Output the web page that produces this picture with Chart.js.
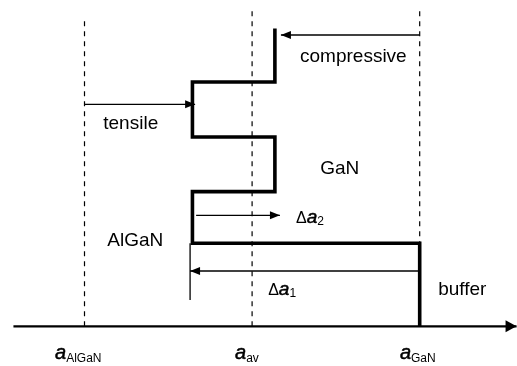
<!DOCTYPE html>
<html>
<head>
<meta charset="utf-8">
<script src="https://cdn.jsdelivr.net/npm/chart.js@4"></script>
<style>
  html, body { margin: 0; padding: 0; background: #fff; }
  #wrap { width: 517px; height: 366px; position: relative; }
</style>
</head>
<body>
<div id="wrap"><canvas id="c"></canvas></div>
<script>
// ---- data (x: lattice constant, scaled so a_AlGaN = 0, a_GaN = 100; y: height above the axis) ----
const latticeTicks = [0, 50, 100];                       // a_AlGaN, a_av, a_GaN
const tickBase = ['a', 'a', 'a'];
const tickSub = ['AlGaN', 'av', 'GaN'];
const guideTop = [305.6, 320, 320];                      // top of dashed guide lines

const stepX = [100, 100, 32.2, 32.2, 56.8, 56.8, 32.2, 32.2, 56.8, 56.8];
const stepY = [0, 83, 83, 134.7, 134.7, 189.3, 189.3, 244.3, 244.3, 297.7];

const arrowNames = ['compressive', 'tensile', 'da2', 'da1'];
const arrowFromX = [100, 0, 33.3, 100];
const arrowToX = [58.6, 33.0, 58.3, 31.5];
const arrowY = [291.3, 222, 111, 55.3];

const refMarkX = [31.5, 31.5];
const refMarkY = [83, 26.3];

const axisX = [-21.2, 128.9];
const axisY = [0, 0];

const textLabels = ['compressive', 'tensile', 'GaN', 'AlGaN', 'buffer'];
const deltaLabels = [['Δ', 'a', '2'], ['Δ', 'a', '1']];

// ---- layout (positions of annotations in data units) ----
const textPos = [[64.3, 264.8], [5.6, 197], [70.3, 152.3], [6.8, 80.6], [105.5, 31]];
const deltaPos = [[63.1, 103.8], [54.8, 31.8]];
const tickLabelPos = [[-8.8, -32.9], [44.9, -32.9], [94.1, -32.9]];

const FONT = '"Liberation Sans", Arial, Helvetica, sans-serif';

const datasets = [];
// dashed guides
latticeTicks.forEach((x, i) => {
  datasets.push({ data: [{x: x, y: 0}, {x: x, y: guideTop[i]}], borderColor: '#000',
    borderWidth: 1.2, borderDash: [5, 5], showLine: true, pointRadius: 0 });
});
// step profile
datasets.push({ data: stepX.map((x, i) => ({x: x, y: stepY[i]})), borderColor: '#000',
  borderWidth: 3.6, showLine: true, pointRadius: 0, borderJoinStyle: 'miter', borderCapStyle: 'butt' });
// arrows
arrowNames.forEach((n, i) => {
  datasets.push({ label: 'arrow', data: [{x: arrowFromX[i], y: arrowY[i]}, {x: arrowToX[i], y: arrowY[i]}],
    borderColor: '#000', borderWidth: 1.3, showLine: true, pointRadius: 0, head: [10, 4] });
});
// reference mark
datasets.push({ data: refMarkX.map((x, i) => ({x: x, y: refMarkY[i]})), borderColor: '#000',
  borderWidth: 1.3, showLine: true, pointRadius: 0 });
// horizontal axis
datasets.push({ label: 'arrow', data: axisX.map((x, i) => ({x: x, y: axisY[i]})), borderColor: '#000',
  borderWidth: 2.2, showLine: true, pointRadius: 0, head: [11, 6] });

function drawRuns(ctx, x, y, runs) {
  let cx = x;
  runs.forEach(r => {
    ctx.font = r.font;
    ctx.fillText(r.t, cx, y + (r.dy || 0));
    if (r.stroke) {
      ctx.lineWidth = r.stroke;
      ctx.strokeStyle = '#000';
      ctx.strokeText(r.t, cx, y + (r.dy || 0));
    }
    cx += ctx.measureText(r.t).width;
  });
}

const annot = {
  id: 'annot',
  afterDatasetsDraw(chart) {
    const ctx = chart.ctx;
    const xs = chart.scales.x, ys = chart.scales.y;
    ctx.save();
    // arrowheads
    chart.data.datasets.forEach((ds, di) => {
      if (ds.label !== 'arrow') return;
      const pts = chart.getDatasetMeta(di).data;
      const a = pts[pts.length - 2], b = pts[pts.length - 1];
      const ang = Math.atan2(b.y - a.y, b.x - a.x);
      const L = ds.head[0], W = ds.head[1];
      ctx.fillStyle = '#000';
      ctx.beginPath();
      ctx.moveTo(b.x, b.y);
      ctx.lineTo(b.x - L * Math.cos(ang) + W * Math.sin(ang), b.y - L * Math.sin(ang) - W * Math.cos(ang));
      ctx.lineTo(b.x - L * Math.cos(ang) - W * Math.sin(ang), b.y - L * Math.sin(ang) + W * Math.cos(ang));
      ctx.closePath();
      ctx.fill();
    });
    ctx.fillStyle = '#000';
    ctx.textBaseline = 'alphabetic';
    ctx.textAlign = 'left';
    textLabels.forEach((t, i) => {
      ctx.font = '19px ' + FONT;
      ctx.fillText(t, xs.getPixelForValue(textPos[i][0]), ys.getPixelForValue(textPos[i][1]));
    });
    deltaLabels.forEach((d, i) => {
      drawRuns(ctx, xs.getPixelForValue(deltaPos[i][0]), ys.getPixelForValue(deltaPos[i][1]), [
        {t: d[0], font: '16px ' + FONT},
        {t: d[1], font: 'italic 19px ' + FONT, stroke: 0.5},
        {t: d[2], font: '12px ' + FONT, dy: 2.5}
      ]);
    });
    tickBase.forEach((b, i) => {
      drawRuns(ctx, xs.getPixelForValue(tickLabelPos[i][0]), ys.getPixelForValue(tickLabelPos[i][1]), [
        {t: b, font: 'italic 20px ' + FONT, stroke: 0.5},
        {t: tickSub[i], font: '12px ' + FONT, dy: 2.5}
      ]);
    });
    ctx.restore();
  }
};

new Chart(document.getElementById('c'), {
  type: 'scatter',
  data: { datasets: datasets },
  options: {
    responsive: true,
    maintainAspectRatio: false,
    animation: false,
    layout: { padding: 0 },
    plugins: { legend: { display: false }, tooltip: { enabled: false } },
    elements: { line: { tension: 0 } },
    scales: {
      x: { type: 'linear', min: -25.21, max: 129.03, display: false },
      y: { type: 'linear', min: -39.7, max: 326.3, display: false }
    }
  },
  plugins: [annot]
});
</script>
</body>
</html>
